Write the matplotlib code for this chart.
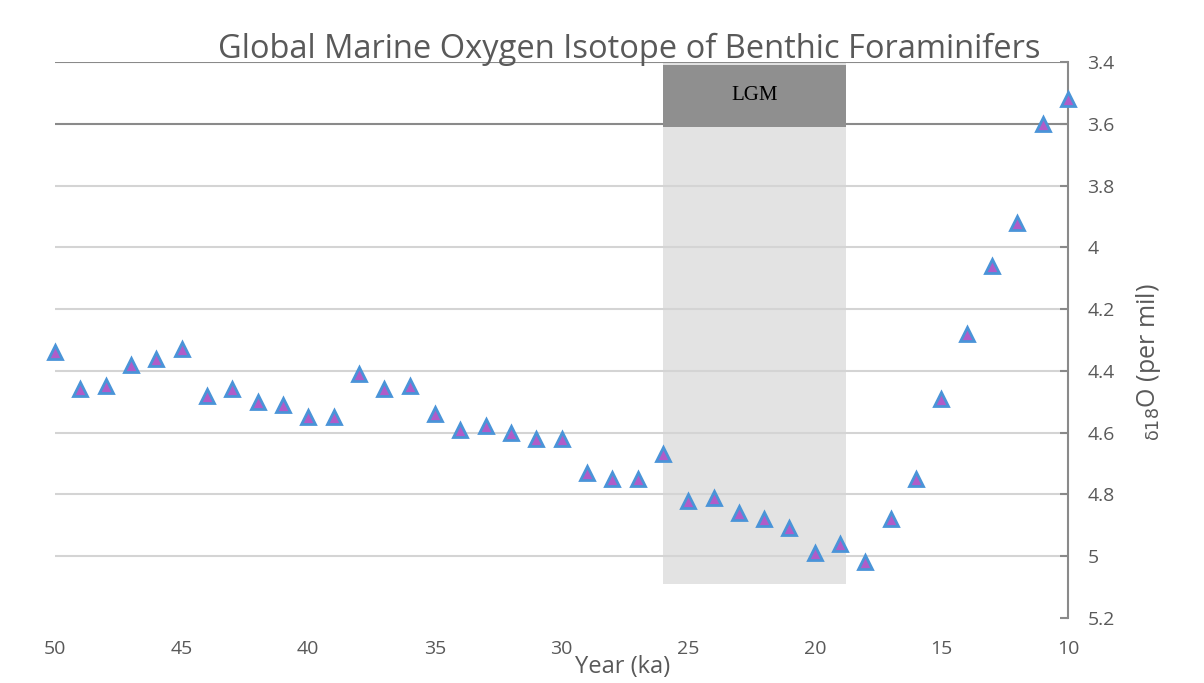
import matplotlib.pyplot as plt
from matplotlib.patches import Rectangle

plt.rcParams['font.family'] = ['Open Sans', 'DejaVu Sans']

# Age (ka) and benthic d18O values (per mil)
years = list(range(50, 9, -1))
d18o = [4.34, 4.46, 4.45, 4.38, 4.36, 4.33, 4.48, 4.46, 4.50, 4.51,
        4.55, 4.55, 4.41, 4.46, 4.45, 4.54, 4.59, 4.58, 4.60, 4.62,
        4.62, 4.73, 4.75, 4.75, 4.67, 4.82, 4.81, 4.86, 4.88, 4.91,
        4.99, 4.96, 5.02, 4.88, 4.75, 4.49, 4.28, 4.06, 3.92, 3.60,
        3.52]

x_ticks = [50, 45, 40, 35, 30, 25, 20, 15, 10]
y_ticks = [3.4, 3.6, 3.8, 4.0, 4.2, 4.4, 4.6, 4.8, 5.0, 5.2]
y_labels = ['3.4', '3.6', '3.8', '4', '4.2', '4.4', '4.6', '4.8', '5', '5.2']

# Last Glacial Maximum window
lgm_start, lgm_end = 26, 18.75
lgm_bottom, lgm_label_bottom = 5.09, 3.61

fig = plt.figure(figsize=(12.04, 6.83), dpi=100)
ax = fig.add_axes([0.0457, 0.0952, 0.8414, 0.8140])

ax.set_xlim(50, 10)
ax.set_ylim(5.2, 3.4)

# LGM shading
ax.add_patch(Rectangle((lgm_end, 3.4), lgm_start - lgm_end, lgm_bottom - 3.4,
                       facecolor='#e3e3e3', edgecolor='none', zorder=0))
ax.add_patch(Rectangle((lgm_end, 3.41), lgm_start - lgm_end, lgm_label_bottom - 3.41,
                       facecolor='#8f8f8f', edgecolor='none', zorder=3))
ax.text((lgm_start + lgm_end) / 2, (3.41 + lgm_label_bottom) / 2, 'LGM',
        ha='center', va='center', fontsize=15, family='Liberation Serif',
        color='black', zorder=4)

# gridlines
for yv in y_ticks[:-1]:
    col = '#8a8a8a' if yv < 3.7 else '#d4d4d4'
    ax.axhline(yv, color=col, lw=1.5, zorder=1)

ax.plot(years, d18o, linestyle='none', marker='^', markersize=10,
        markerfacecolor='#b05cc8', markeredgecolor='#4a94d8',
        markeredgewidth=2, clip_on=False, zorder=5)

for side in ['top', 'left', 'bottom']:
    ax.spines[side].set_visible(False)
ax.spines['right'].set_color('#8a8a8a')
ax.spines['right'].set_linewidth(1.5)

ax.yaxis.tick_right()
ax.yaxis.set_label_position('right')
ax.set_yticks(y_ticks)
ax.set_yticklabels(y_labels)
ax.tick_params(axis='y', direction='in', length=6, width=1.5, color='#8a8a8a',
               labelsize=14, labelcolor='#595959', pad=14)
ax.set_xticks(x_ticks)
ax.tick_params(axis='x', length=0, labelsize=14, labelcolor='#595959', pad=16)

ax.set_ylabel(r'$_{\mathrm{\delta 18}}$O (per mil)', fontsize=18, color='#595959',
              labelpad=12)
ax.yaxis.set_label_coords(1.065, 0.46)
ax.set_xlabel('Year (ka)', fontsize=17, color='#595959')
ax.xaxis.set_label_coords(0.56, -0.066)

fig.text(0.523, 0.928, 'Global Marine Oxygen Isotope of Benthic Foraminifers',
         ha='center', va='center', fontsize=23.5, color='#595959')

fig.savefig('out.png', dpi=100)
